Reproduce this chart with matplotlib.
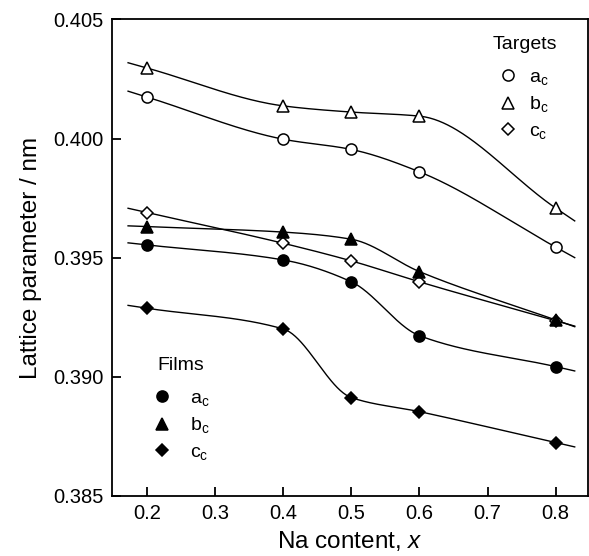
import numpy as np
import matplotlib
matplotlib.use("Agg")
import matplotlib.pyplot as plt
from matplotlib.lines import Line2D

plt.rcParams["font.family"] = "Liberation Sans"
plt.rcParams["mathtext.fontset"] = "custom"
plt.rcParams["mathtext.rm"] = "Liberation Sans"
plt.rcParams["mathtext.it"] = "Liberation Sans:italic"

# Na content
na_x = [0.2, 0.4, 0.5, 0.6, 0.8]

# targets (open symbols)
target_a = [0.40174, 0.39997, 0.39954, 0.39860, 0.39544]
target_b = [0.40296, 0.40137, 0.40111, 0.40094, 0.39708]
target_c = [0.39689, 0.39560, 0.39486, 0.39398, 0.39235]

# films (filled symbols)
film_a = [0.39553, 0.39490, 0.39398, 0.39172, 0.39042]
film_b = [0.39630, 0.39607, 0.39577, 0.39441, 0.39238]
film_c = [0.39287, 0.39200, 0.38912, 0.38853, 0.38723]

labels = ["a$_\\mathregular{c}$", "b$_\\mathregular{c}$", "c$_\\mathregular{c}$"]
markers = ["o", "^", "D"]
marker_sizes = [8, 8.5, 6.2]


def pchip_curve(x, y, x_lo, x_hi, n=300):
    # monotone cubic through the measured points, linear beyond the ends
    x = np.asarray(x, float)
    y = np.asarray(y, float)
    h = np.diff(x)
    d = np.diff(y) / h
    m = np.zeros_like(y)
    m[0], m[-1] = d[0], d[-1]
    for k in range(1, len(x) - 1):
        if d[k - 1] * d[k] > 0:
            w1 = 2 * h[k] + h[k - 1]
            w2 = h[k] + 2 * h[k - 1]
            m[k] = (w1 + w2) / (w1 / d[k - 1] + w2 / d[k])
    xs = np.linspace(x_lo, x_hi, n)
    ys = np.empty_like(xs)
    for i, xv in enumerate(xs):
        if xv <= x[0]:
            ys[i] = y[0] + m[0] * (xv - x[0])
        elif xv >= x[-1]:
            ys[i] = y[-1] + m[-1] * (xv - x[-1])
        else:
            k = np.searchsorted(x, xv) - 1
            t = (xv - x[k]) / h[k]
            h00 = 2 * t**3 - 3 * t**2 + 1
            h10 = t**3 - 2 * t**2 + t
            h01 = -2 * t**3 + 3 * t**2
            h11 = t**3 - t**2
            ys[i] = h00 * y[k] + h10 * h[k] * m[k] + h01 * y[k + 1] + h11 * h[k] * m[k + 1]
    return xs, ys


fig = plt.figure(figsize=(5.89, 5.56), dpi=100)
ax = fig.add_axes([0.1897, 0.1085, 0.808, 0.8565])

for series, mk, ms in zip([target_a, target_b, target_c], markers, marker_sizes):
    xs, ys = pchip_curve(na_x, series, 0.172, 0.828)
    ax.plot(xs, ys, color="black", lw=1.0, zorder=2)
    ax.plot(na_x, series, linestyle="none", marker=mk, ms=ms, mfc="white",
            mec="black", mew=1.1, zorder=3)

for series, mk, ms in zip([film_a, film_b, film_c], markers, marker_sizes):
    xs, ys = pchip_curve(na_x, series, 0.172, 0.828)
    ax.plot(xs, ys, color="black", lw=1.0, zorder=2)
    ax.plot(na_x, series, linestyle="none", marker=mk, ms=ms, mfc="black",
            mec="black", mew=1.1, zorder=3)

ax.set_xlim(0.148, 0.847)
ax.set_ylim(0.385, 0.405)
ax.set_xticks([0.2, 0.3, 0.4, 0.5, 0.6, 0.7, 0.8])
ax.set_yticks([0.385, 0.390, 0.395, 0.400, 0.405])
ax.set_yticklabels(["0.385", "0.390", "0.395", "0.400", "0.405"])
ax.tick_params(direction="in", length=6.5, width=1.3, labelsize=14.5, pad=6)
for sp in ax.spines.values():
    sp.set_linewidth(1.3)

ax.set_xlabel("Na content, $x$", fontsize=17.5, labelpad=4)
ax.set_ylabel("Lattice parameter / nm", fontsize=17.5, labelpad=8)

target_handles = [Line2D([], [], linestyle="none", marker=mk, ms=ms, mfc="white",
                         mec="black", mew=1.1) for mk, ms in zip(markers, marker_sizes)]
film_handles = [Line2D([], [], linestyle="none", marker=mk, ms=ms, mfc="black",
                       mec="black", mew=1.1) for mk, ms in zip(markers, marker_sizes)]

fig.text(493 / 589, 1 - 45 / 556, "Targets", fontsize=14, ha="left", va="center")
fig.text(157 / 589, 1 - 365 / 556, "Films", fontsize=14, ha="left", va="center")

leg1 = ax.legend(target_handles, labels, loc="upper left",
                 bbox_to_anchor=(493 / 589, 1 - 68 / 556), bbox_transform=fig.transFigure,
                 frameon=False, fontsize=14,
                 handlelength=1.55, handletextpad=0.3, labelspacing=0.4,
                 borderpad=0, borderaxespad=0, numpoints=1)
ax.add_artist(leg1)
ax.legend(film_handles, labels, loc="upper left",
          bbox_to_anchor=(157 / 589, 1 - 389 / 556), bbox_transform=fig.transFigure,
          frameon=False, fontsize=14,
          handlelength=0.55, handletextpad=1.15, labelspacing=0.4,
          borderpad=0, borderaxespad=0, numpoints=1)

fig.savefig("out.png", dpi=100)
